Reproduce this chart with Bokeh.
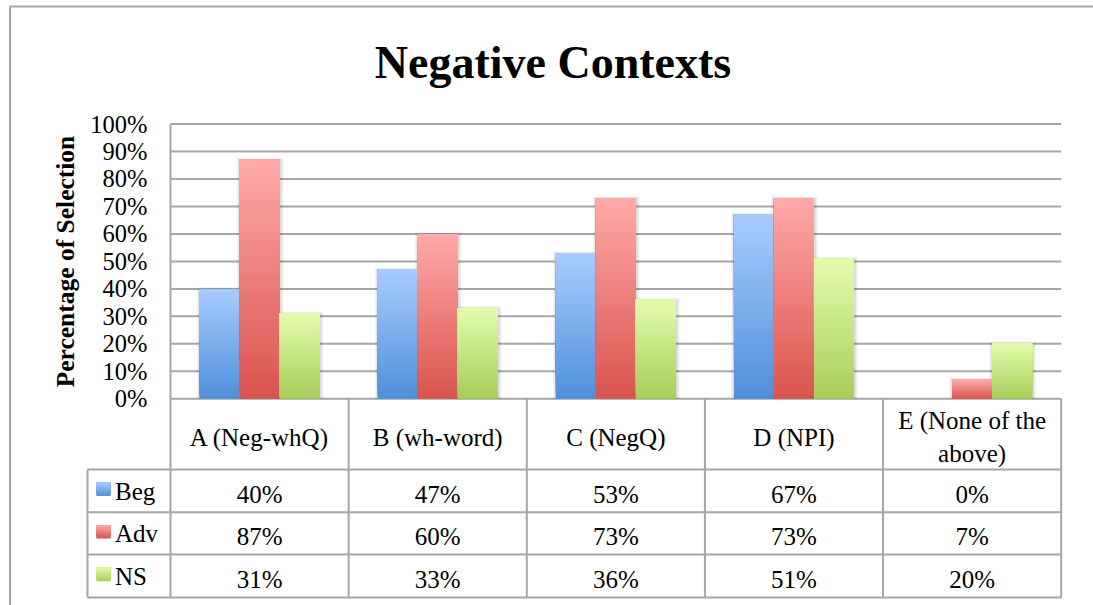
import math
from bokeh.plotting import figure
from bokeh.models import (Range1d, LinearAxis, FixedTicker, PrintfTickFormatter,
                          ColumnDataSource)
from bokeh.core.properties import value
from bokeh.embed import file_html
from bokeh.resources import INLINE

# ---------------- data ----------------
chart_title = "Negative Contexts"
axis_title = "Percentage of Selection"
categories = ["A (Neg-whQ)", "B (wh-word)", "C (NegQ)", "D (NPI)", "E (None of the\nabove)"]
series_names = ["Beg", "Adv", "NS"]
beg = [40, 47, 53, 67, 0]
adv = [87, 60, 73, 73, 7]
ns = [31, 33, 36, 51, 20]
y_ticks = [0, 10, 20, 30, 40, 50, 60, 70, 80, 90, 100]

series_values = {"Beg": beg, "Adv": adv, "NS": ns}

# gradient colours per series: (top, bottom)
palette = {
    "Beg": ("#a9ccff", "#4f8fd9"),
    "Adv": ("#ffaaa8", "#d9534e"),
    "NS": ("#e4fcac", "#a7cd58"),
}

# ---------------- page geometry (pixels) ----------------
W, H = 1093, 605
SERIF = "Liberation Serif"
LINE = "#a6a6a6"

plot_left, plot_right = 170.0, 1060.7
y_zero, y_full = 398.3, 123.5
row_edges = [398.3, 469.0, 511.7, 554.0, 597.0]
legend_left = 87.0
chart_left, chart_top = 9.5, 6.0
bar_px = 40.0

ncat = len(categories)
cw = (plot_right - plot_left) / ncat      # pixels per category
ph = (y_zero - y_full) / 100.0            # pixels per percent
px_x = 1.0 / cw
px_y = 1.0 / ph


def mix(c1, c2, t):
    a = [int(c1[k:k + 2], 16) for k in (1, 3, 5)]
    b = [int(c2[k:k + 2], 16) for k in (1, 3, 5)]
    return "#%02x%02x%02x" % tuple(round(a[k] + (b[k] - a[k]) * t) for k in range(3))


p = figure(width=W, height=H, output_backend="svg", toolbar_location=None,
           x_range=Range1d(-plot_left / cw, ncat + (W - plot_right) / cw),
           y_range=Range1d(-(H - y_zero) / ph, 100 + y_full / ph),
           x_axis_location=None, y_axis_location=None, min_border=0,
           outline_line_color=None, background_fill_color="white",
           border_fill_color="white")
p.extra_x_ranges = {"px": Range1d(0, W)}
p.extra_y_ranges = {"px": Range1d(H, 0)}
p.grid.visible = False

# ---------------- value axis ----------------
table_bottom = -(row_edges[-1] - y_zero) / ph
yaxis = LinearAxis(fixed_location=0, ticker=FixedTicker(ticks=y_ticks),
                   formatter=PrintfTickFormatter(format="%d%%"),
                   bounds=(table_bottom, 100))
yaxis.axis_line_color = LINE
yaxis.axis_line_width = 2
yaxis.major_tick_out = 0
yaxis.major_tick_in = 0
yaxis.minor_tick_out = 0
yaxis.minor_tick_in = 0
yaxis.major_label_standoff = 23
yaxis.major_label_text_font = SERIF
yaxis.major_label_text_font_size = "24.5px"
yaxis.major_label_text_color = "black"
p.add_layout(yaxis, "left")

# horizontal gridlines
p.segment(x0=0, x1=ncat, y0="y", y1="y", source=ColumnDataSource(dict(y=y_ticks)),
          line_color=LINE, line_width=2)

# ---------------- bars with vertical gradient ----------------
bar_w = bar_px / cw
offsets = [-bar_w, 0.0, bar_w]
N = 60

shadow = dict(left=[], right=[], bottom=[], top=[], alpha=[])
slices = dict(left=[], right=[], bottom=[], top=[], color=[])
for s_idx, name in enumerate(series_names):
    top_c, bot_c = palette[name]
    for i, v in enumerate(series_values[name]):
        if v <= 0:
            continue
        xc = i + 0.5 + offsets[s_idx]
        l, r = xc - bar_w / 2, xc + bar_w / 2
        for gl, gr, gt, a in [(3, 4, 2.0, 0.035), (2, 3, 1.2, 0.045), (1, 2, 0.5, 0.06)]:
            shadow["left"].append(l - gl * px_x)
            shadow["right"].append(r + gr * px_x)
            shadow["bottom"].append(0)
            shadow["top"].append(v + gt * px_y)
            shadow["alpha"].append(a)
        # each band runs from its own bottom up to the bar top; later bands cover
        # earlier ones, so there are no seams between bands
        for j in range(N):
            slices["left"].append(l)
            slices["right"].append(r)
            slices["bottom"].append(v * j / N)
            slices["top"].append(v)
            slices["color"].append(mix(bot_c, top_c, (j + 0.5) / N))

p.quad(left="left", right="right", bottom="bottom", top="top",
       source=ColumnDataSource(shadow), fill_color="black", fill_alpha="alpha",
       line_color=None)
p.quad(left="left", right="right", bottom="bottom", top="top",
       source=ColumnDataSource(slices), fill_color="color", line_color=None)

# ---------------- data table ----------------
# horizontal rules under the header and between rows
p.segment(x0=legend_left, x1=plot_right, y0=row_edges[1:], y1=row_edges[1:],
          x_range_name="px", y_range_name="px", line_color=LINE, line_width=2)
# column separators at category boundaries
p.segment(x0=list(range(1, ncat + 1)), x1=list(range(1, ncat + 1)),
          y0=row_edges[0], y1=row_edges[-1], y_range_name="px",
          line_color=LINE, line_width=2)
# left edge of the legend column
p.segment(x0=legend_left, x1=legend_left, y0=row_edges[1], y1=row_edges[-1],
          x_range_name="px", y_range_name="px", line_color=LINE, line_width=2)

hdr_center = (row_edges[0] + row_edges[1]) / 2
p.text(x=[i + 0.5 for i in range(ncat)], y=[hdr_center + 3] * ncat, text=categories,
       y_range_name="px", text_align="center", text_baseline="middle",
       text_font=value(SERIF), text_font_size="25px", text_color="black",
       text_line_height=1.2)

cell = dict(x=[], y=[], text=[])
for r_idx, name in enumerate(series_names):
    yc = (row_edges[r_idx + 1] + row_edges[r_idx + 2]) / 2
    for i, v in enumerate(series_values[name]):
        cell["x"].append(i + 0.5)
        cell["y"].append(yc + 3.4)
        cell["text"].append(f"{v}%")
p.text(x="x", y="y", text="text", source=ColumnDataSource(cell), y_range_name="px",
       text_align="center", text_baseline="middle", text_font=value(SERIF),
       text_font_size="25px", text_color="black")

# legend keys inside the table
key_l, key_r, key_size = 96.0, 110.0, 13.5
keys = dict(left=[], right=[], bottom=[], top=[], color=[])
lab = dict(x=[], y=[], text=[])
for r_idx, name in enumerate(series_names):
    top_c, bot_c = palette[name]
    yc = (row_edges[r_idx + 1] + row_edges[r_idx + 2]) / 2
    k_top = yc - 1.5 - key_size / 2
    k_bot = k_top + key_size
    n_k = 14
    for j in range(n_k):
        keys["left"].append(key_l)
        keys["right"].append(key_r)
        keys["top"].append(k_top)
        keys["bottom"].append(k_bot - key_size * j / n_k)
        keys["color"].append(mix(bot_c, top_c, (j + 0.5) / n_k))
    lab["x"].append(key_r + 4.5)
    lab["y"].append(yc + 0.6)
    lab["text"].append(name)
p.quad(left="left", right="right", bottom="bottom", top="top", source=ColumnDataSource(keys),
       x_range_name="px", y_range_name="px", fill_color="color", line_color=None)
p.text(x="x", y="y", text="text", source=ColumnDataSource(lab), x_range_name="px",
       y_range_name="px", text_align="left", text_baseline="middle",
       text_font=value(SERIF), text_font_size="25px", text_color="black")

# ---------------- titles ----------------
p.text(x=[552.5], y=[61.7], text=[chart_title], x_range_name="px", y_range_name="px",
       text_align="center", text_baseline="middle", text_font=value(SERIF),
       text_font_size="46px", text_font_style="bold", text_color="black")
p.text(x=[64.5], y=[261.0], text=[axis_title], x_range_name="px", y_range_name="px",
       angle=math.pi / 2, text_align="center", text_baseline="middle",
       text_font=value(SERIF), text_font_size="25.5px", text_font_style="bold",
       text_color="black")

# ---------------- chart border ----------------
p.segment(x0=[chart_left, chart_left], x1=[W, chart_left], y0=[chart_top, chart_top],
          y1=[chart_top, H], x_range_name="px", y_range_name="px",
          line_color=LINE, line_width=2)

open("out.html", "w").write(file_html(p, INLINE))
